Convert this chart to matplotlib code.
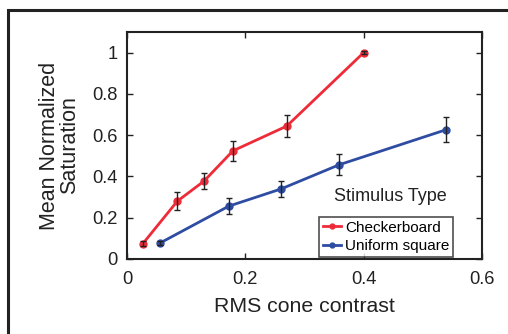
import matplotlib
matplotlib.use("Agg")
import matplotlib.pyplot as plt
from matplotlib.patches import Rectangle

plt.rcParams['font.family'] = ['Liberation Sans', 'DejaVu Sans']

# Checkerboard stimulus
check_x = [0.027, 0.085, 0.13, 0.179, 0.27, 0.40]
check_y = [0.075, 0.28, 0.377, 0.524, 0.644, 1.0]
check_err = [0.01, 0.043, 0.038, 0.047, 0.055, 0.006]

# Uniform square stimulus
unif_x = [0.055, 0.172, 0.26, 0.359, 0.54]
unif_y = [0.076, 0.256, 0.339, 0.457, 0.627]
unif_err = [0.01, 0.038, 0.037, 0.05, 0.061]

xticks = [0, 0.2, 0.4, 0.6]
xtick_labels = ['0', '0.2', '0.4', '0.6']
yticks = [0, 0.2, 0.4, 0.6, 0.8, 1.0]
ytick_labels = ['0', '0.2', '0.4', '0.6', '0.8', '1']

red = '#EE2B38'
blue = '#2E4DA2'
ink = '#222222'

fig = plt.figure(figsize=(5.08, 3.34), dpi=100)
ax = fig.add_axes([0.25, 0.2246, 0.6988, 0.6796])

# outer figure frame (clipped at right and bottom)
fig.patches.append(Rectangle((8 / 508, -0.1), 1.2, 1 - 10 / 334 + 0.1,
                             transform=fig.transFigure, fill=False,
                             edgecolor=ink, linewidth=2.2))

for xs, ys, es, c, lab in [(check_x, check_y, check_err, red, 'Checkerboard'),
                           (unif_x, unif_y, unif_err, blue, 'Uniform square')]:
    ax.plot(xs, ys, '-o', color=c, lw=2, ms=5, label=lab)
    ax.errorbar(xs, ys, yerr=es, fmt='none', ecolor=ink,
                elinewidth=1, capsize=2.5, capthick=1)

ax.set_xlim(0, 0.6)
ax.set_ylim(0, 1.1)
ax.set_xticks(xticks)
ax.set_xticklabels(xtick_labels)
ax.set_yticks(yticks)
ax.set_yticklabels(ytick_labels)
ax.tick_params(direction='in', length=4, width=1, top=True, right=True,
               labelsize=13.2, colors=ink)
ax.tick_params(axis='x', pad=9)
ax.tick_params(axis='y', pad=6.5)
for s in ax.spines.values():
    s.set_linewidth(1.5)
    s.set_color(ink)

ax.set_xlabel('RMS cone contrast', fontsize=15.3, color=ink, labelpad=6)
ax.set_ylabel('Mean Normalized\nSaturation', fontsize=15.5, color=ink,
              labelpad=9, linespacing=0.95)

leg = ax.legend(loc='lower right', bbox_to_anchor=(0.9175, 0.01), fontsize=11,
                frameon=True, fancybox=False, edgecolor=ink,
                handlelength=1.2, handletextpad=0.25, borderpad=0.22,
                labelspacing=0.3, borderaxespad=0, markerscale=0.7)
leg.get_frame().set_linewidth(1.2)
ax.text(0.741, 0.274, 'Stimulus Type', transform=ax.transAxes, fontsize=13,
        ha='center', va='center', color=ink)

fig.savefig('out.png', dpi=100)
